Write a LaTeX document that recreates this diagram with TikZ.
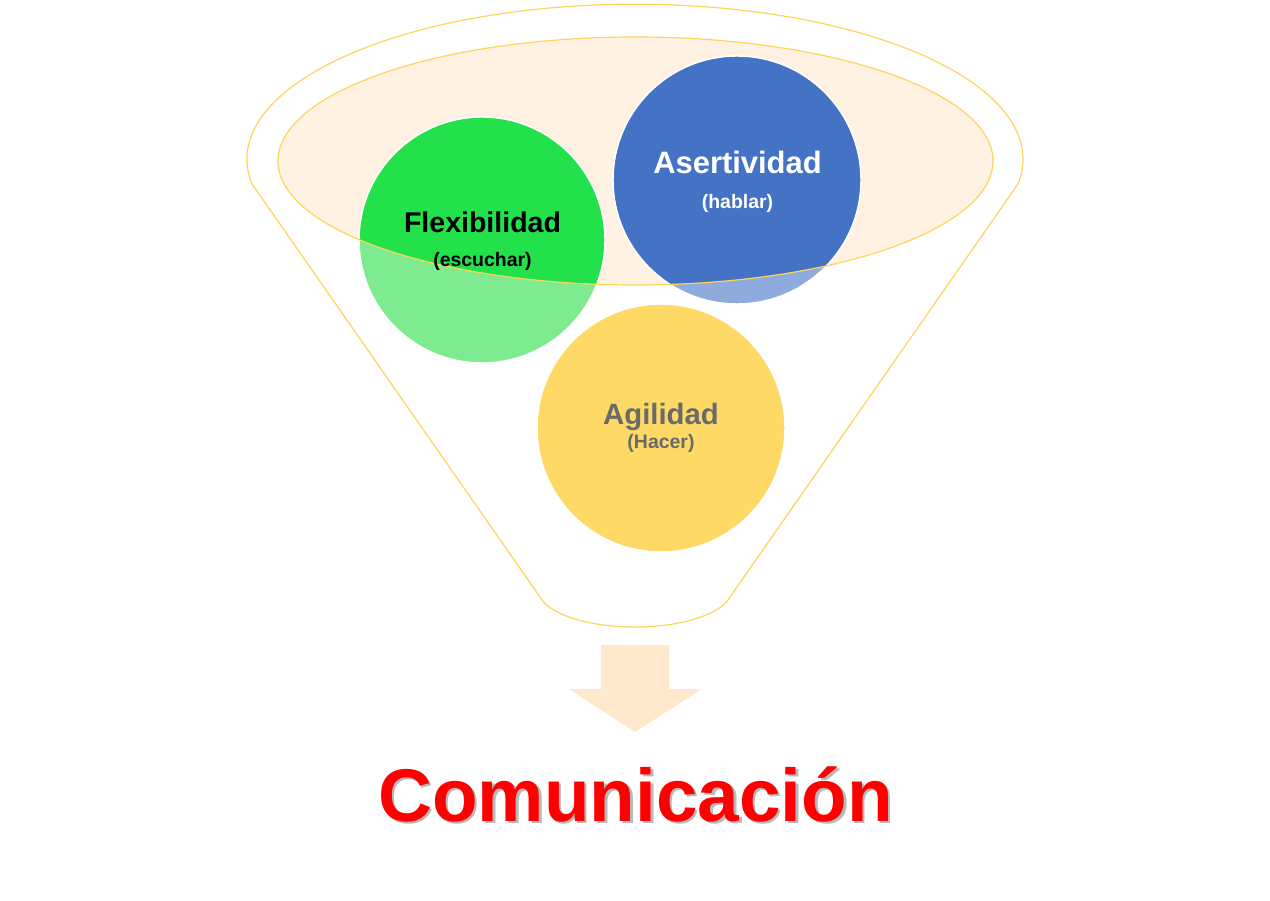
\documentclass[tikz,border=0pt]{standalone}
\usepackage{fontspec}
\setmainfont{Liberation Sans}

\begin{document}
\begin{tikzpicture}[x=0.75pt,y=0.75pt]
\definecolor{funnelLine}{HTML}{FFD45C}
\definecolor{funnelTop}{HTML}{FFF2E3}
\definecolor{skillGreen}{HTML}{23E14B}
\definecolor{skillGreenLight}{HTML}{7EEB90}
\definecolor{skillBlue}{HTML}{4472C4}
\definecolor{skillBlueLight}{HTML}{8FAADC}
\definecolor{skillYellow}{HTML}{FFD966}
\definecolor{skillGray}{HTML}{6A6A6A}
\definecolor{resultArrow}{HTML}{FFE8CC}
\definecolor{resultRed}{HTML}{FF0000}
\definecolor{resultShade}{HTML}{B8B8B8}
\useasboundingbox (0,0) rectangle (1270,900);
\draw[funnelLine,line width=0.9pt] (252,716)
  arc[start angle=189.2,end angle=-9.2,x radius=388,y radius=155]
  -- (730,303)
  arc[start angle=-11.6,end angle=-168.4,x radius=97,y radius=37.6]
  -- cycle;
\fill[funnelTop] (635.5,739) ellipse[x radius=357.5,y radius=124];
\fill[skillGreenLight] (482,660) circle[radius=123];
\fill[skillBlueLight] (737,720) circle[radius=124];
\begin{scope}
  \clip (635.5,739) ellipse[x radius=357.5,y radius=124];
  \fill[skillGreen] (482,660) circle[radius=123];
  \fill[skillBlue] (737,720) circle[radius=124];
\end{scope}
\fill[skillYellow] (661,472) circle[radius=124];
\foreach \cx/\cy/\r in {482/660/123,737/720/124,661/472/124} {
  \draw[white,line width=1.1pt] (\cx,\cy) circle[radius=\r];
}
\draw[funnelLine,line width=0.9pt] (635.5,739) ellipse[x radius=357.5,y radius=124];
\node[anchor=base,font=\bfseries\fontsize{21.4}{25}\selectfont] (flexTitle) at (482.5,667) {Flexibilidad};
\node[anchor=base,font=\bfseries\fontsize{14.6}{17}\selectfont] (flexSub) at (482.5,633) {(escuchar)};
\node[anchor=base,text=white,font=\bfseries\fontsize{23.2}{27}\selectfont] (asertTitle) at (737.5,726) {Asertividad};
\node[anchor=base,text=white,font=\bfseries\fontsize{14.6}{17}\selectfont] (asertSub) at (737.5,691) {(hablar)};
\node[anchor=base,text=skillGray,font=\bfseries\fontsize{22}{26}\selectfont] (agilTitle) at (661,475) {Agilidad};
\node[anchor=base,text=skillGray,font=\bfseries\fontsize{14.6}{17}\selectfont] (agilSub) at (661,451) {(Hacer)};
\fill[resultArrow] (601,255) -- (669,255) -- (669,211) -- (702,211) -- (635,168) -- (569,211) -- (601,211) -- cycle;
\node[anchor=base,text=resultRed,font=\bfseries\fontsize{56}{64}\selectfont] (resultTitle) at (635.5,79)
  {\rlap{\kern2pt\raisebox{-2pt}{\color{resultShade}Comunicación}}Comunicación};
\end{tikzpicture}
\end{document}
